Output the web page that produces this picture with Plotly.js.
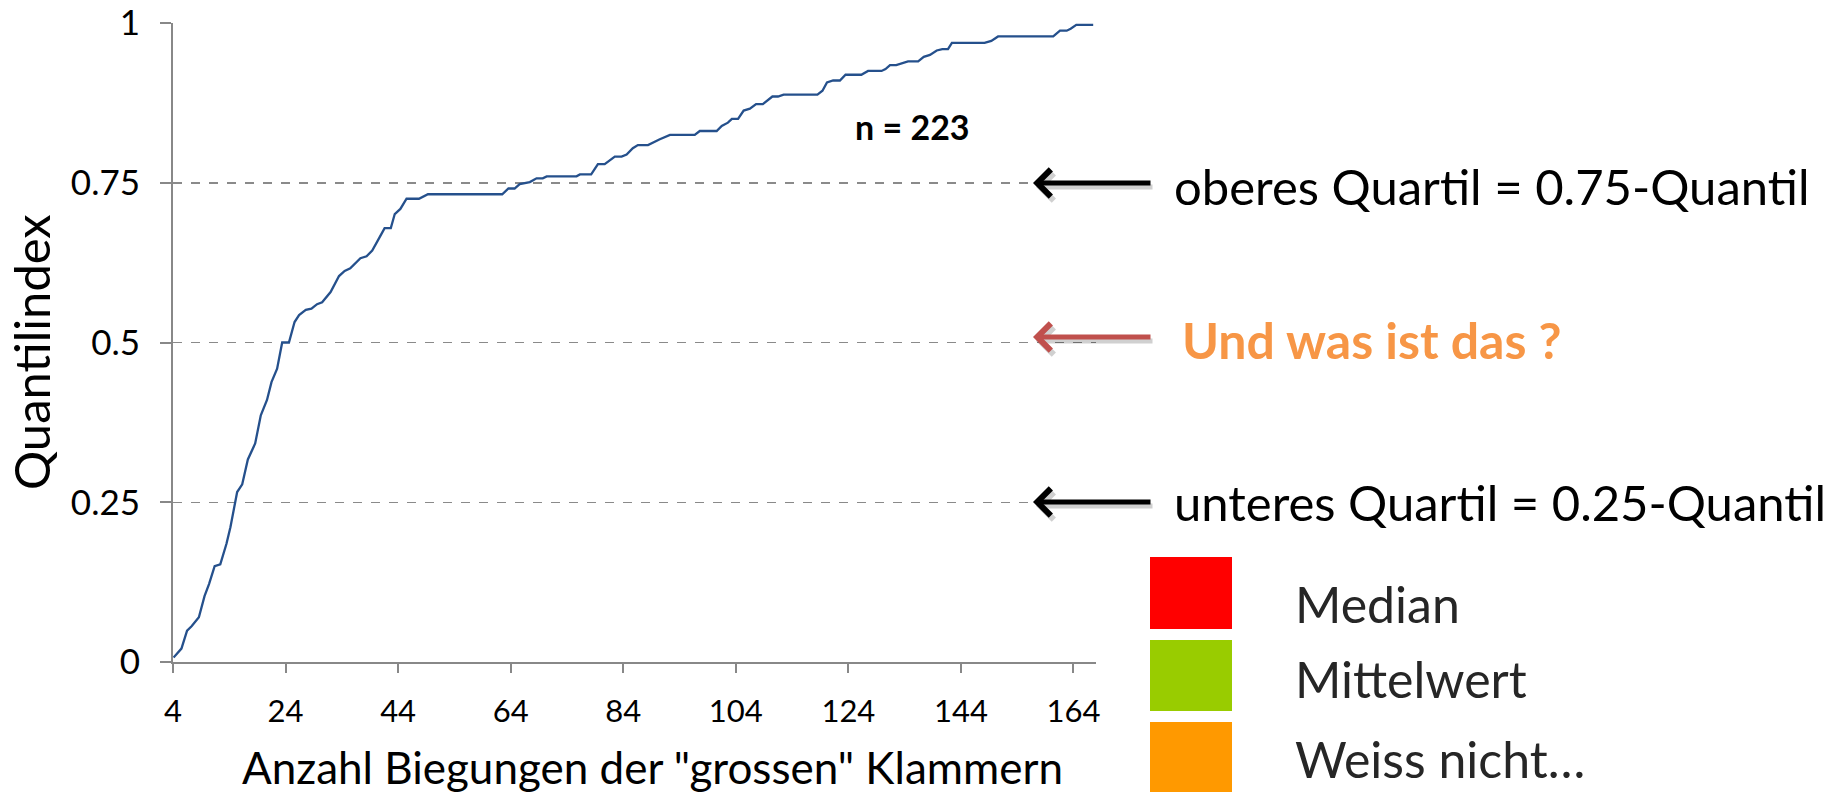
<!DOCTYPE html>
<html>
<head>
<meta charset="utf-8">
<script src="https://cdn.plot.ly/plotly-3.0.1.min.js"></script>
<style>
  html, body { margin: 0; padding: 0; background: #ffffff; }
  #chart { width: 1825px; height: 792px; }
</style>
</head>
<body>
<div id="chart"></div>
<script>
// Number of bends (x) and quantile index (y)
const bends = [4.1, 5.5, 6.5, 7.3, 8.6, 9.6, 10.4, 11.4, 12.4, 13.5, 14.2, 14.8, 15.4, 16.3, 17.3, 18.6, 19.6, 20.7, 21.5, 22.5,
  23.4, 24.6, 25.6, 26.4, 27.6, 28.6, 29.6, 30.5, 32.0, 33.5, 34.5, 35.5, 37.3, 38.4, 39.4, 40.6, 41.6, 42.7, 43.4, 44.4,
  45.5, 47.7, 49.3, 62.5, 63.6, 64.7, 65.6, 67.4, 68.6, 69.7, 70.4, 75.7, 76.3, 78.3, 79.5, 80.7, 82.5, 83.7, 84.6, 85.7,
  86.6, 88.4, 89.3, 90.5, 92.3, 96.7, 97.6, 100.6, 101.5, 102.6, 103.3, 104.4, 105.4, 106.5, 107.6, 108.8, 110.5, 111.5, 112.5, 118.5,
  119.4, 120.2, 121.3, 122.5, 123.5, 126.3, 127.5, 129.9, 130.6, 131.4, 132.5, 134.6, 136.4, 137.4, 138.5, 139.7, 140.7, 141.7, 142.4, 148.2,
  149.4, 150.6, 160.4, 161.6, 162.8, 163.5, 164.5, 167.5];
const quantileIndex = [0.007, 0.021, 0.049, 0.056, 0.070, 0.103, 0.122, 0.150, 0.153, 0.185, 0.211, 0.240, 0.266, 0.278, 0.317, 0.342, 0.386, 0.410, 0.438, 0.459,
  0.500, 0.500, 0.532, 0.543, 0.551, 0.553, 0.560, 0.563, 0.579, 0.604, 0.612, 0.616, 0.632, 0.635, 0.644, 0.663, 0.679, 0.679, 0.701, 0.709,
  0.725, 0.725, 0.732, 0.732, 0.741, 0.741, 0.748, 0.751, 0.757, 0.757, 0.760, 0.760, 0.763, 0.763, 0.779, 0.779, 0.791, 0.791, 0.794, 0.804,
  0.809, 0.809, 0.813, 0.818, 0.825, 0.825, 0.831, 0.831, 0.839, 0.844, 0.850, 0.850, 0.863, 0.866, 0.873, 0.873, 0.885, 0.885, 0.888, 0.888,
  0.894, 0.907, 0.910, 0.910, 0.919, 0.919, 0.925, 0.925, 0.928, 0.934, 0.934, 0.940, 0.940, 0.947, 0.950, 0.957, 0.959, 0.959, 0.969, 0.969,
  0.972, 0.979, 0.979, 0.988, 0.988, 0.991, 0.997, 0.997];

const xTickVals = [4, 24, 44, 64, 84, 104, 124, 144, 164];
const xTickText = ['4', '24', '44', '64', '84', '104', '124', '144', '164'];
const yTickVals = [0, 0.25, 0.5, 0.75, 1];
const yTickText = ['0', '0.25', '0.5', '0.75', '1'];

const xTitle = 'Anzahl Biegungen der "grossen" Klammern';
const yTitle = 'Quantilindex';
const sampleSize = 'n = 223';
const quantileNotes = ['oberes Quartil = 0.75-Quantil', 'Und was ist das ?', 'unteres Quartil = 0.25-Quantil'];
const quantileLevels = [0.75, 0.5, 0.25];
const answerLabels = ['Median', 'Mittelwert', 'Weiss nicht\u2026'];
const answerColors = ['#FF0000', '#99CC00', '#FF9900'];

const FONT = 'Lato, Calibri, Carlito, sans-serif';

// plot area in pixels: left 173, right 1096, top 23, bottom 662
const L = 173, R = 1096, T = 23, B = 662;
const W = 1825, H = 792;
const px2x = p => (p - L) / (R - L);
const px2y = p => (B - p) / (B - T);

const trace = {
  x: bends, y: quantileIndex, type: 'scatter', mode: 'lines',
  line: { color: '#25508C', width: 2.3 },
  hoverinfo: 'x+y', showlegend: false
};

const annotations = [];
const shapes = [];

// axis titles (placed as annotations to match the offsets of the original)
annotations.push({
  xref: 'paper', yref: 'paper', x: px2x(652), y: px2y(767),
  text: xTitle, showarrow: false, xanchor: 'center', yanchor: 'middle',
  font: { family: FONT, size: 44, color: '#000000' }
});
annotations.push({
  xref: 'paper', yref: 'paper', x: px2x(31), y: px2y(352),
  text: yTitle, showarrow: false, xanchor: 'center', yanchor: 'middle', textangle: -90,
  font: { family: FONT, size: 49, color: '#000000' }
});

// n = 223
annotations.push({
  xref: 'paper', yref: 'paper', x: px2x(912), y: px2y(126),
  text: '<b>' + sampleSize + '</b>', showarrow: false,
  font: { family: FONT, size: 34, color: '#000000' }, xanchor: 'center', yanchor: 'middle'
});

// arrows with shadows and notes
const arrowColors = ['#000000', '#C0504D', '#000000'];
const arrowY = [183, 337, 502];
const noteY = [186, 340, 502];
const noteX = [1172, 1180, 1172];
const noteColors = ['#000000', '#F79646', '#000000'];
const noteSizes = [49, 50, 49];
quantileLevels.forEach((lv, i) => {
  annotations.push({
    xref: 'paper', yref: 'paper', x: px2x(1036), y: px2y(arrowY[i] + 4),
    ax: 118, ay: 0, text: '', showarrow: true, arrowhead: 4, arrowsize: 1.05,
    arrowwidth: 5, arrowcolor: 'rgba(0,0,0,0.18)', standoff: 0
  });
  annotations.push({
    xref: 'paper', yref: 'paper', x: px2x(1033), y: px2y(arrowY[i]),
    ax: 119, ay: 0, text: '', showarrow: true, arrowhead: 4, arrowsize: 1.05,
    arrowwidth: 5, arrowcolor: arrowColors[i], standoff: 0
  });
  annotations.push({
    xref: 'paper', yref: 'paper', x: px2x(noteX[i]), y: px2y(noteY[i]),
    text: i === 1 ? '<b>' + quantileNotes[i] + '</b>' : quantileNotes[i],
    showarrow: false, xanchor: 'left', yanchor: 'middle',
    font: { family: FONT, size: noteSizes[i], color: noteColors[i] }
  });
});

// answer boxes
const boxTop = [557, 640, 722];
const boxBot = [629, 711, 800];
const labelY = [604, 679, 759];
answerLabels.forEach((lab, i) => {
  shapes.push({
    type: 'rect', xref: 'paper', yref: 'paper',
    x0: px2x(1150), x1: px2x(1232), y0: px2y(boxBot[i]), y1: px2y(boxTop[i]),
    fillcolor: answerColors[i], line: { width: 0 }, layer: 'above'
  });
  annotations.push({
    xref: 'paper', yref: 'paper', x: px2x(1293), y: px2y(labelY[i]),
    text: lab, showarrow: false, xanchor: 'left', yanchor: 'middle',
    font: { family: FONT, size: 50, color: '#262626' }
  });
});

const layout = {
  width: W, height: H,
  margin: { l: L, r: W - R, t: T, b: H - B, pad: 0 },
  paper_bgcolor: '#ffffff', plot_bgcolor: '#ffffff',
  showlegend: false,
  font: { family: FONT, color: '#000000' },
  xaxis: {
    range: [4, 168], tickmode: 'array', tickvals: xTickVals, ticktext: xTickText,
    showgrid: false, zeroline: false, showline: true, linecolor: '#888888', linewidth: 2,
    ticks: 'outside', ticklen: 9, tickwidth: 2, tickcolor: '#888888',
    tickfont: { family: FONT, size: 31, color: '#000000' },
    ticklabelstandoff: 12, ticklabeloverflow: 'allow',
    fixedrange: true
  },
  yaxis: {
    range: [0, 1], tickmode: 'array', tickvals: yTickVals, ticktext: yTickText,
    showgrid: true, gridcolor: '#8A8A8A', gridwidth: 1.5, griddash: 'dash',
    zeroline: false, showline: true, linecolor: '#888888', linewidth: 2,
    ticks: 'outside', ticklen: 11, tickwidth: 2, tickcolor: '#888888',
    tickfont: { family: FONT, size: 35, color: '#000000' },
    ticklabelstandoff: 13, ticklabeloverflow: 'allow',
    fixedrange: true
  },
  annotations: annotations,
  shapes: shapes
};

Plotly.newPlot('chart', [trace], layout, { staticPlot: true, displayModeBar: false });
</script>
</body>
</html>
